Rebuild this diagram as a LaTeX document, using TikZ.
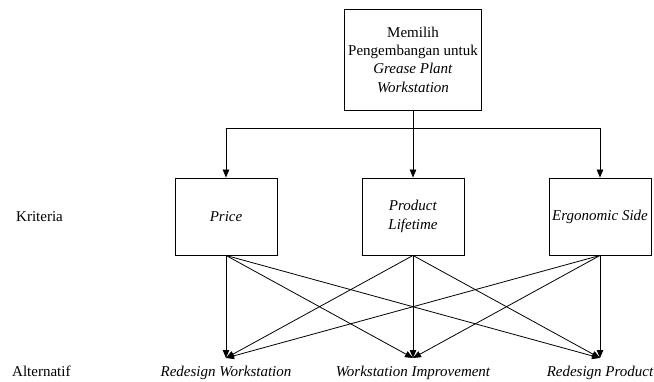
\documentclass[tikz,border=0pt]{standalone}
\usepackage{fontspec}
\setmainfont{LiberationSerif}[Extension=.ttf,UprightFont=*-Regular,ItalicFont=*-Italic,BoldFont=*-Bold,BoldItalicFont=*-BoldItalic]
\usetikzlibrary{arrows.meta}
\begin{document}
\begin{tikzpicture}[x=1pt,y=-1pt,
  every node/.style={font=\fontsize{15}{18.3}\selectfont},
  box/.style={draw,line width=0.9pt,align=center,inner sep=2pt},
  topbox/.style={box,minimum width=137pt,minimum height=101pt},
  critbox/.style={box,minimum width=102pt,minimum height=77pt},
  alt/.style={inner sep=0pt,anchor=north,text height=18pt,text depth=3.5pt,font=\fontsize{15}{18.3}\selectfont\itshape},
  lbl/.style={inner sep=0pt},
  conn/.style={line width=0.8pt},
  arr/.style={conn,-{Triangle[length=8pt,width=6.5pt]}}]
\useasboundingbox (0,0) rectangle (654,381);
\node[topbox] (top) at (413,59.5) {Memilih\\Pengembangan untuk\\\textit{Grease Plant}\\\textit{Workstation}};
\node[critbox] (c1) at (226,216.5) {\textit{Price}};
\node[critbox] (c2) at (413,216.5) {\textit{Product}\\\textit{Lifetime}};
\node[critbox] (c3) at (600,216.5) {\textit{Ergonomic Side}};
\node[alt] (a1) at (226,358) {Redesign Workstation};
\node[alt] (a2) at (413,358) {Workstation Improvement};
\node[alt] (a3) at (600,358) {Redesign Product};
\node[lbl,anchor=west] (k) at (16,216.5) {Kriteria};
\node[lbl,anchor=base west] (al) at (12,0 |- a1.base) {Alternatif};
\coordinate (j) at (413,128);
\draw[conn] (top.south) -- (j);
\draw[arr] (j) -| (c1.north);
\draw[arr] (j) -- (c2.north);
\draw[arr] (j) -| (c3.north);
\foreach \c in {c1,c2,c3}{
  \foreach \a in {a1,a2,a3}{
    \draw[arr] (\c.south) -- (\a.north);
  }
}
\end{tikzpicture}
\end{document}
